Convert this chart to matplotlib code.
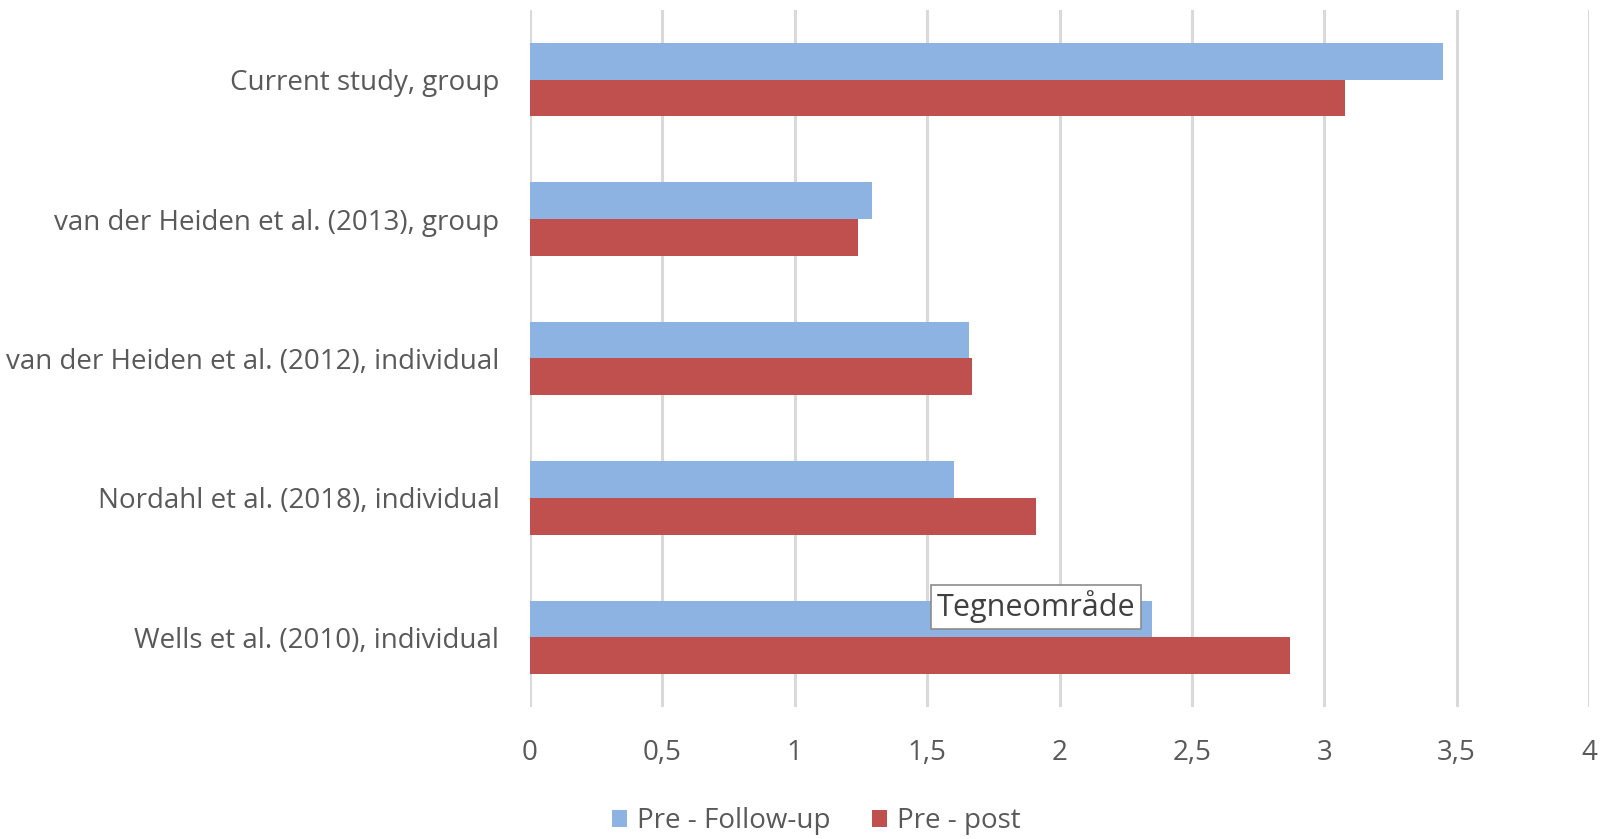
import numpy as np
import matplotlib
matplotlib.use('Agg')
import matplotlib.pyplot as plt

# values
studies = ['Current study, group',
           'van der Heiden et al. (2013), group',
           'van der Heiden et al. (2012), individual',
           'Nordahl et al. (2018), individual',
           'Wells et al. (2010), individual']
pre_followup = [3.45, 1.29, 1.66, 1.60, 2.35]
pre_post = [3.08, 1.24, 1.67, 1.91, 2.87]
xticks = [0, 0.5, 1, 1.5, 2, 2.5, 3, 3.5, 4]
xtick_labels = ['0', '0,5', '1', '1,5', '2', '2,5', '3', '3,5', '4']

plt.rcParams['font.family'] = ['Open Sans', 'DejaVu Sans']
text_col = '#595959'

fig = plt.figure(figsize=(16, 8.39), dpi=100)
ax = fig.add_axes([530 / 1600, 1 - 707 / 839, 1059 / 1600, 697 / 839])

y = np.arange(len(studies))
h = 0.263
ax.barh(y - h / 2, pre_followup, height=h, color='#8DB3E2', label='Pre - Follow-up', zorder=3)
ax.barh(y + h / 2, pre_post, height=h, color='#C0504D', label='Pre - post', zorder=3)

ax.set_ylim(len(studies) - 0.5, -0.5)
ax.set_xlim(0, 4)
ax.set_xticks(xticks)
ax.set_xticklabels(xtick_labels)
ax.set_yticks(y)
ax.set_yticklabels(studies)
ax.tick_params(axis='both', length=0, labelsize=20, colors=text_col)
ax.tick_params(axis='x', pad=23)
ax.tick_params(axis='y', pad=22)
ax.grid(axis='x', color='#D9D9D9', linewidth=2.2, zorder=0)
ax.grid(axis='y', visible=False)
for s in ax.spines.values():
    s.set_visible(False)

leg = fig.legend(loc='center', bbox_to_anchor=(0.51, 1 - 821 / 839), ncol=2, frameon=False,
                 fontsize=20, handlelength=0.55, handleheight=0.55, handletextpad=0.35,
                 columnspacing=1.5)
for t in leg.get_texts():
    t.set_color(text_col)

# tooltip left over from the screenshot
fig.text(1036 / 1600, 1 - 607 / 839, 'Tegneområde', fontsize=22, color='#404040',
         ha='center', va='center', zorder=5,
         bbox=dict(boxstyle='square,pad=0.17', facecolor='white', edgecolor='#8c8c8c', linewidth=1.2))

fig.savefig('out.png', dpi=100)
